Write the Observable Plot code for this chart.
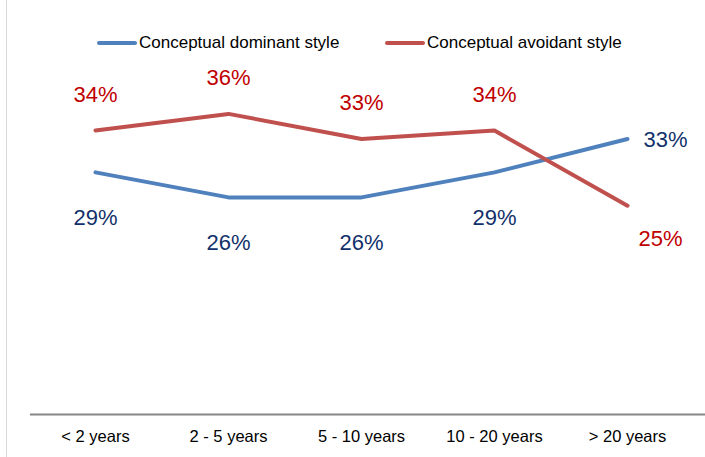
<!DOCTYPE html>
<html>
<head>
<meta charset="utf-8">
<script src="https://cdn.jsdelivr.net/npm/d3@7"></script>
<script src="https://cdn.jsdelivr.net/npm/@observablehq/plot@0.6"></script>
<style>
  html, body { margin: 0; padding: 0; background: #fff; }
  #wrap { position: relative; width: 705px; height: 457px; overflow: hidden; font-family: "Liberation Sans", Arial, sans-serif; }
  #border { position: absolute; left: 6px; top: 0; width: 1px; height: 457px; background: #d9d9d9; }
  .leg { position: absolute; top: 32px; height: 22px; display: flex; align-items: center; font-size: 17px; color: #000; white-space: nowrap; }
  .leg .sw { width: 40px; height: 4px; border-radius: 2px; margin-right: 2px; }
  #chart { position: absolute; left: 0; top: 0; }
</style>
</head>
<body>
<div id="wrap">
  <div id="border"></div>
  <div id="chart"></div>
  <div class="leg" style="left:97px"><div class="sw" style="background:#4F81BD"></div><span>Conceptual dominant style</span></div>
  <div class="leg" style="left:385px"><div class="sw" style="background:#C0504D"></div><span>Conceptual avoidant style</span></div>
</div>
<script>
const categories = ["< 2 years", "2 - 5 years", "5 - 10 years", "10 - 20 years", "> 20 years"];
const dominant = [29, 26, 26, 29, 33];
const avoidant = [34, 36, 33, 34, 25];
const seriesNames = ["Conceptual dominant style", "Conceptual avoidant style"];

const rows = [];
categories.forEach((c, i) => {
  rows.push({cat: c, v: dominant[i], s: seriesNames[0], last: i === categories.length - 1});
  rows.push({cat: c, v: avoidant[i], s: seriesNames[1], last: i === categories.length - 1});
});
const dom = rows.filter(d => d.s === seriesNames[0]);
const avo = rows.filter(d => d.s === seriesNames[1]);

const labelFont = {fontSize: 22, fontFamily: "Liberation Sans, Arial, sans-serif"};

const plot = Plot.plot({
  width: 705,
  height: 457,
  marginLeft: 30,
  marginRight: 0,
  marginTop: 80,
  marginBottom: 43,
  style: {fontFamily: "Liberation Sans, Arial, sans-serif", background: "transparent"},
  x: {type: "point", domain: categories, range: [95, 627], padding: 0, label: null},
  y: {domain: [0, 40], axis: null},
  marks: [
    Plot.ruleY([0], {stroke: "#868686", strokeWidth: 2}),
    Plot.axisX({tickSize: 0, tickPadding: 16, fontSize: 16.5, label: null, color: "#000"}),
    Plot.line(dom, {x: "cat", y: "v", stroke: "#4F81BD", strokeWidth: 4, strokeLinejoin: "round", strokeLinecap: "round"}),
    Plot.line(avo, {x: "cat", y: "v", stroke: "#C0504D", strokeWidth: 4, strokeLinejoin: "round", strokeLinecap: "round"}),
    Plot.text(dom.filter(d => !d.last), {x: "cat", y: "v", text: d => d.v + "%", dy: 46, fill: "#12316b", ...labelFont}),
    Plot.text(dom.filter(d => d.last), {x: "cat", y: "v", text: d => d.v + "%", dx: 38, dy: 1, fill: "#12316b", ...labelFont}),
    Plot.text(avo.filter(d => !d.last), {x: "cat", y: "v", text: d => d.v + "%", dy: -36, fill: "#C00000", ...labelFont}),
    Plot.text(avo.filter(d => d.last), {x: "cat", y: "v", text: d => d.v + "%", dx: 33, dy: 33, fill: "#C00000", ...labelFont})
  ]
});
document.getElementById("chart").appendChild(plot);
</script>
</body>
</html>
